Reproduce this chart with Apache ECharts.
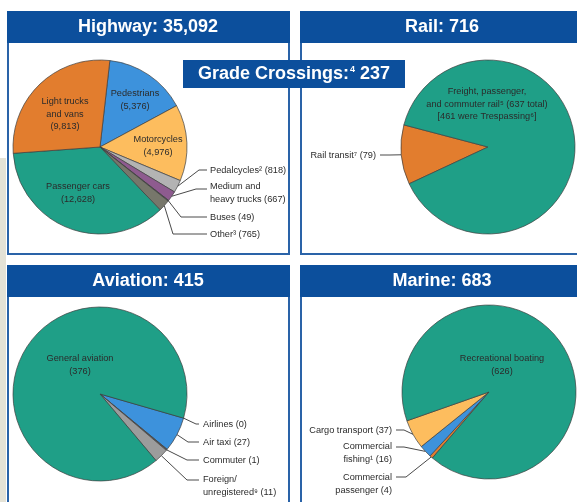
<!DOCTYPE html>
<html>
<head>
<meta charset="utf-8">
<script src="https://cdn.jsdelivr.net/npm/echarts@6/dist/echarts.min.js"></script>
<style>html,body{margin:0;padding:0;background:#fff;}#c{width:577px;height:502px;}</style>
</head>
<body>
<div id="c"></div>
<script>
// ---- data ----
const highwayNames = ['Pedestrians', 'Motorcycles', 'Pedalcycles²', 'Medium and\nheavy trucks', 'Buses', 'Other³', 'Passenger cars', 'Light trucks\nand vans'];
const highwayValues = [5376, 4976, 818, 667, 49, 765, 12628, 9813];
const railNames = ['Rail transit⁷', 'Freight, passenger,\nand commuter rail⁵'];
const railValues = [79, 637];
const railTrespassing = 461;
const aviationNames = ['Airlines', 'Air taxi', 'Commuter', 'Foreign/\nunregistered⁹', 'General aviation'];
const aviationValues = [0, 27, 1, 11, 376];
const marineNames = ['Commercial\npassenger', 'Commercial\nfishing¹', 'Cargo transport', 'Recreational boating'];
const marineValues = [4, 16, 37, 626];
const gradeCrossings = 237;

// ---- styles ----
const TEAL = '#1f9f87', ORANGE = '#e27d2e', BLUE = '#3d92dc', LORANGE = '#fdbd5e';
const highwayColors = [BLUE, LORANGE, '#b3b3b3', '#8e5b8f', '#4d4d4d', '#77776b', TEAL, ORANGE];
const railColors = [ORANGE, TEAL];
const aviationColors = [BLUE, BLUE, '#555555', '#9c9c9c', TEAL];
const marineColors = [ORANGE, BLUE, LORANGE, TEAL];
const HEADER = '#0c4f9c', BORDER = '#2a63a8';
const SMALLFONT = '"Liberation Sans", Arial, sans-serif';
const BIGFONT = '"Liberation Sans", Arial, sans-serif';
const fmt = v => v.toLocaleString('en-US');
const sum = a => a.reduce((s, v) => s + v, 0);

// label placement: [x, y, align, inside?, elbow x, elbow y, line end x]
const layouts = [
  [[135, 100, 'center', 1], [158, 146, 'center', 1], [210, 170, 'left', 0, 199, 170, 207], [210, 193, 'left', 0, 196, 189, 207],
   [210, 217, 'left', 0, 181, 217, 207], [210, 234, 'left', 0, 173, 234, 207], [78, 193, 'center', 1], [65, 114, 'center', 1]],
  [[376, 155, 'right', 0, 390, 155, 380], [487, 104, 'center', 1]],
  [[203, 424, 'left', 0, 196, 424, 199], [203, 442, 'left', 0, 188, 442, 199], [203, 460, 'left', 0, 187, 460, 199],
   [203, 486, 'left', 0, 187, 480, 199], [80, 365, 'center', 1]],
  [[392, 484, 'right', 0, 406, 477, 396], [392, 453, 'right', 0, 404, 447, 396], [392, 430, 'right', 0, 404, 430, 396],
   [502, 365, 'center', 1]]
];

function buildData(names, values, colors, seriesIdx, labelFn) {
  return names.map((n, i) => ({
    name: n, value: values[i],
    itemStyle: { color: colors[i] },
    label: { formatter: labelFn(n, values[i], i) },
    labelLine: { show: !layouts[seriesIdx][i][3] }
  }));
}

function pieSeries(name, center, data, startAngle, idx) {
  return {
    type: 'pie', name: name, center: center, radius: 87,
    startAngle: startAngle, clockwise: true, avoidLabelOverlap: false,
    silent: true, animation: false,
    itemStyle: { borderColor: '#3f3f3f', borderWidth: 0.7 },
    label: { show: true, position: 'outside', color: '#2b2b2b', fontFamily: SMALLFONT, fontSize: 9.2, lineHeight: 12.5 },
    labelLine: { show: true, lineStyle: { color: '#4a4a4a', width: 1 }, length: 5, length2: 5 },
    labelLayout: function (p) {
      const L = layouts[idx][p.dataIndex];
      const out = { x: L[0], y: L[1], align: L[2], verticalAlign: 'middle' };
      if (!L[3] && p.labelLinePoints) {
        const p0 = p.labelLinePoints[0];
        out.labelLinePoints = [[p0[0], p0[1]], [L[4], L[5]], [L[6], L[5]]];
      }
      return out;
    },
    data: data
  };
}

const inner = (n, v) => n + '\n(' + fmt(v) + ')';
const outer = (n, v) => n + ' (' + fmt(v) + ')';

const series = [
  pieSeries('Highway', [100, 147], buildData(highwayNames, highwayValues, highwayColors, 0,
    (n, v, i) => layouts[0][i][3] ? inner(n, v) : outer(n, v)), 83.5, 0),
  pieSeries('Rail', [488, 147], buildData(railNames, railValues, railColors, 1,
    (n, v, i) => i === 1 ? n + ' (' + fmt(v) + ' total)\n[' + railTrespassing + ' were Trespassing⁶]' : outer(n, v)), 205, 1),
  pieSeries('Aviation', [100, 394], buildData(aviationNames, aviationValues, aviationColors, 2,
    (n, v, i) => layouts[2][i][3] ? inner(n, v) : outer(n, v)), -16.1, 2),
  pieSeries('Marine', [489, 392], buildData(marineNames, marineValues, marineColors, 3,
    (n, v, i) => layouts[3][i][3] ? inner(n, v) : outer(n, v)), 229.4, 3)
];

function panel(x, y, w, h, title, tx) {
  return [
    { type: 'rect', z: -10, shape: { x: x + 1, y: y + 1, width: w, height: h }, style: { fill: '#fff', stroke: BORDER, lineWidth: 2 } },
    { type: 'rect', z: -9, shape: { x: x, y: y, width: w + 2, height: 32 }, style: { fill: HEADER } },
    { type: 'text', z: -8, x: tx, y: y + 16, style: { text: title, fill: '#fff', font: 'bold 18px ' + BIGFONT, align: 'center', verticalAlign: 'middle' } }
  ];
}

const graphics = [].concat(
  [{ type: 'rect', z: -20, shape: { x: 0, y: 158, width: 6, height: 344 }, style: { fill: '#e4e2d6' } }],
  panel(7, 11, 281, 242, 'Highway: ' + fmt(sum(highwayValues)), 148),
  panel(300, 11, 300, 242, 'Rail: ' + fmt(sum(railValues)), 442),
  panel(7, 265, 281, 260, 'Aviation: ' + fmt(sum(aviationValues)), 148),
  panel(300, 265, 300, 260, 'Marine: ' + fmt(sum(marineValues)), 442),
  [
    { type: 'rect', z: 50, shape: { x: 183, y: 60, width: 222, height: 28 }, style: { fill: HEADER } },
    { type: 'text', z: 51, x: 294, y: 74, style: {
        text: '{a|Grade Crossings:}{s|4}{a| ' + gradeCrossings + '}',
        align: 'center', verticalAlign: 'middle',
        rich: {
          a: { fill: '#fff', font: 'bold 18px ' + BIGFONT, fontSize: 18, fontWeight: 'bold', fontFamily: BIGFONT },
          s: { fill: '#fff', fontSize: 9, fontWeight: 'bold', fontFamily: BIGFONT, padding: [0, 0, 9, 1] }
        } } }
  ]
);

const chart = echarts.init(document.getElementById('c'), null, { renderer: 'canvas' });
chart.setOption({ animation: false, backgroundColor: '#fff', graphic: graphics, series: series });
</script>
</body>
</html>
